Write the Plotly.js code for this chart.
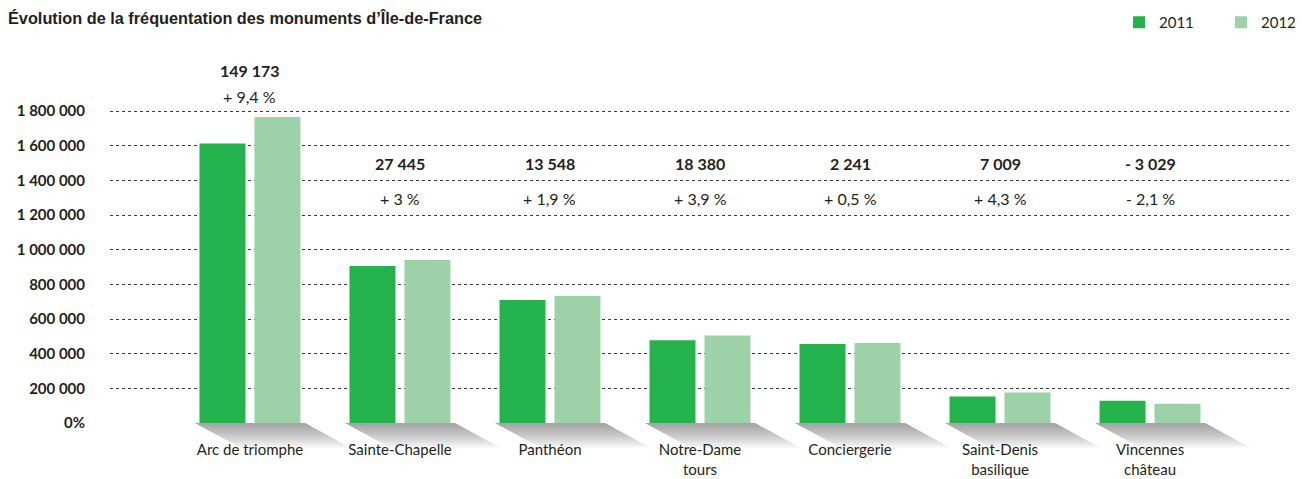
<!DOCTYPE html>
<html>
<head>
<meta charset="utf-8">
<script src="https://cdn.plot.ly/plotly-3.0.1.min.js"></script>
<style>body{margin:0;padding:0;background:#fff}#chart{width:1305px;height:479px}</style>
</head>
<body>
<div id="chart"></div>
<script>
// ---- data ----
const categories = ["Arc de triomphe", "Sainte-Chapelle", "Panthéon", "Notre-Dame<br>tours", "Conciergerie", "Saint-Denis<br>basilique", "Vincennes<br>château"];
const values2011 = [1612000, 906000, 709000, 477000, 456000, 153000, 128000];
const values2012 = [1765000, 940000, 732000, 505000, 462000, 176000, 111000];
const diffLabels = ["149 173", "27 445", "13 548", "18 380", "2 241", "7 009", "- 3 029"];
const pctLabels = ["+ 9,4 %", "+ 3 %", "+ 1,9 %", "+ 3,9 %", "+ 0,5 %", "+ 4,3 %", "- 2,1 %"];
const yTickVals = [0, 200000, 400000, 600000, 800000, 1000000, 1200000, 1400000, 1600000, 1800000];
const yTickText = ["0%", "200 000", "400 000", "600 000", "800 000", "1 000 000", "1 200 000", "1 400 000", "1 600 000", "1 800 000"];
const seriesNames = ["2011", "2012"];

// ---- styling ----
const txt = "#231f20";
const font = "Lato, 'Open Sans', sans-serif";
const c2011 = "#24b24c";
const c2012 = "#9dd2a8";
const xMin = -0.933, xMax = 6.933;
const yMax = 2100000;

const traces = [
  {type: "bar", name: seriesNames[0], x: categories, y: values2011, marker: {color: c2011}, hoverinfo: "y"},
  {type: "bar", name: seriesNames[1], x: categories, y: values2012, marker: {color: c2012}, hoverinfo: "y"}
];

const annotations = [];
categories.forEach((c, i) => {
  const first = i === 0;
  annotations.push({x: c, y: first ? 2035000 : 1495000, xref: "x", yref: "y", text: "<b>" + diffLabels[i] + "</b>",
    showarrow: false, font: {family: font, size: 16, color: txt}, yanchor: "middle"});
  annotations.push({x: c, y: first ? 1883000 : 1293000, xref: "x", yref: "y", text: pctLabels[i],
    showarrow: false, font: {family: font, size: 16, color: txt}, yanchor: "middle"});
});

// shadows under each bar group (layered translucent parallelograms)
const shapes = [];
const half = 0.3667;
const px = v => (v - xMin) / (xMax - xMin);
const plotH = 364, plotW = 1180;
categories.forEach((c, i) => {
  const L = 16;
  for (let k = 1; k <= L; k++) {
    const dy = 25 * k / L / plotH;
    const dx = 46 * k / L / plotW;
    const x0 = px(i - half), x1 = px(i + half);
    shapes.push({type: "path", xref: "paper", yref: "paper",
      path: `M${x0},0 L${x1},0 L${x1 + dx},${-dy} L${x0 + dx},${-dy} Z`,
      fillcolor: "rgba(80,80,80,0.04)", line: {width: 0}, layer: "below"});
  }
});

const layout = {
  width: 1305, height: 479,
  margin: {l: 110, r: 15, t: 59, b: 56},
  paper_bgcolor: "#fff", plot_bgcolor: "rgba(0,0,0,0)",
  title: {text: "<b>Évolution de la fréquentation des monuments d’Île-de-France</b>", x: 8 / 1305, xanchor: "left", xref: "container",
    y: 1 - 18 / 479, yanchor: "middle", yref: "container", font: {family: "'Liberation Sans', Arial, sans-serif", size: 16.3, color: txt}},
  barmode: "group", bargap: 0.267, bargroupgap: 0.164,
  xaxis: {range: [xMin, xMax], showgrid: false, zeroline: false, showline: false, ticks: "",
    tickfont: {family: font, size: 15, color: txt}, ticklabelstandoff: 16, fixedrange: true},
  yaxis: {range: [0, yMax], tickvals: yTickVals, ticktext: yTickText, showgrid: true, gridcolor: "#3a3a3a", gridwidth: 1,
    griddash: "3px,3px", zeroline: false, showline: false, ticks: "", ticklabelstandoff: 24,
    tickfont: {family: font, size: 15, color: txt, weight: "bold"}, fixedrange: true},
  legend: {orientation: "h", x: 1119 / 1305, xref: "container", y: 1 - 6 / 479, yref: "container", yanchor: "top", xanchor: "left",
    font: {family: font, size: 15, color: txt}, entrywidth: 57, traceorder: "normal", bgcolor: "rgba(0,0,0,0)"},
  annotations: annotations,
  shapes: shapes,
  showlegend: true
};

Plotly.newPlot("chart", traces, layout, {displayModeBar: false, staticPlot: true});
</script>
</body>
</html>
